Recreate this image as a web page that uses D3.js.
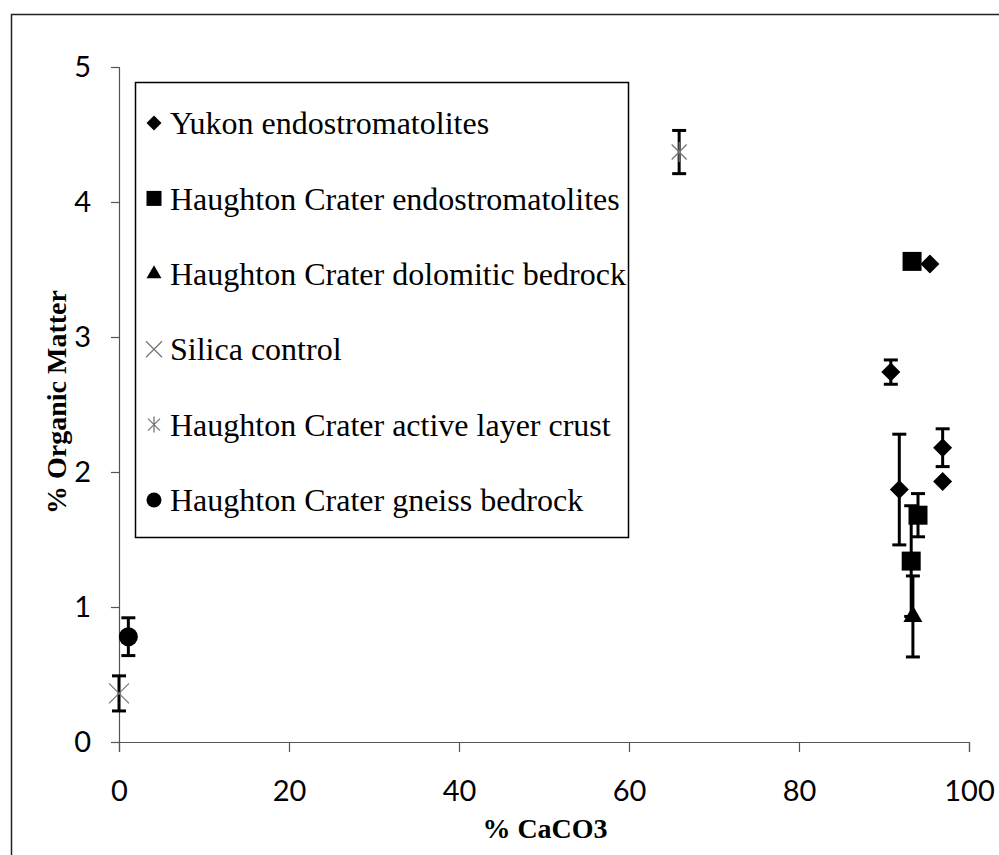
<!DOCTYPE html>
<html>
<head>
<meta charset="utf-8">
<script src="https://cdn.jsdelivr.net/npm/d3@7"></script>
<style>
  body { margin: 0; background: #fff; }
  .tick text { font-family: Lato, 'Open Sans', sans-serif; font-size: 29px; fill: #000; }
  .axis-title { font-family: 'Liberation Serif', 'Times New Roman', serif; font-weight: bold; font-size: 28px; }
  .legend-label { font-family: 'Liberation Serif', 'Times New Roman', serif; font-size: 32px; }
</style>
</head>
<body>
<div class="chart"></div>
<script>
// series names (legend order)
const seriesNames = [
  'Yukon endostromatolites',
  'Haughton Crater endostromatolites',
  'Haughton Crater dolomitic bedrock',
  'Silica control',
  'Haughton Crater active layer crust',
  'Haughton Crater gneiss bedrock'
];
const seriesShapes = ['diamond', 'square', 'triangle', 'x', 'asterisk', 'circle'];

// values: x = % CaCO3, y = % organic matter, err = +/- error bar
const yukonX = [95.4, 90.8, 91.8, 96.9, 96.9];
const yukonY = [3.54, 2.74, 1.87, 2.18, 1.93];
const yukonErr = [0, 0.09, 0.41, 0.14, 0];

const hcEndoX = [93.3, 94.0, 93.2];
const hcEndoY = [3.56, 1.68, 1.34];
const hcEndoErr = [0, 0.16, 0.41];

const dolomiticX = [93.4];
const dolomiticY = [0.93];
const dolomiticErr = [0.30];

const silicaX = [0];
const silicaY = [0.36];
const silicaErr = [0.13];

const crustX = [65.9];
const crustY = [4.37];
const crustErr = [0.16];

const gneissX = [1.1];
const gneissY = [0.78];
const gneissErr = [0.14];

const xTicks = [0, 20, 40, 60, 80, 100];
const yTicks = [0, 1, 2, 3, 4, 5];

const allX = [yukonX, hcEndoX, dolomiticX, silicaX, crustX, gneissX];
const allY = [yukonY, hcEndoY, dolomiticY, silicaY, crustY, gneissY];
const allErr = [yukonErr, hcEndoErr, dolomiticErr, silicaErr, crustErr, gneissErr];

const series = seriesNames.map((name, i) => ({
  name,
  shape: seriesShapes[i],
  points: allX[i].map((x, j) => ({x, y: allY[i][j], err: allErr[i][j]}))
}));

const width = 999;
const height = 855;

const svg = d3.select('.chart').append('svg')
  .attr('width', width)
  .attr('height', height);

// outer frame
svg.append('rect')
  .attr('x', 11.5).attr('y', 14.5)
  .attr('width', width).attr('height', height)
  .attr('fill', 'none')
  .attr('stroke', '#222')
  .attr('stroke-width', 1.5);

const x = d3.scaleLinear().domain([0, 100]).range([119, 969]);
const y = d3.scaleLinear().domain([0, 5]).range([742, 67]);

const xAxis = svg.append('g')
  .attr('transform', `translate(0,${y(0)})`)
  .call(d3.axisBottom(x).tickValues(xTicks).tickFormat(d3.format('d')).tickSize(10).tickPadding(34));
const yAxis = svg.append('g')
  .attr('transform', `translate(${x(0)},0)`)
  .call(d3.axisLeft(y).tickValues(yTicks).tickFormat(d3.format('d')).tickSize(8).tickPadding(20));

[xAxis, yAxis].forEach(g => {
  g.select('.domain').attr('stroke', '#555').attr('stroke-width', 1.2);
  g.selectAll('.tick line').attr('stroke', '#555').attr('stroke-width', 1.2);
});
xAxis.selectAll('.tick text').attr('dy', '0.5em');

svg.append('text')
  .attr('class', 'axis-title')
  .attr('x', 545).attr('y', 838)
  .attr('text-anchor', 'middle')
  .text('% CaCO3');

svg.append('text')
  .attr('class', 'axis-title')
  .attr('transform', 'translate(66,402) rotate(-90)')
  .attr('text-anchor', 'middle')
  .text('% Organic Matter');

// marker paths
function markerPath(shape, s) {
  if (shape === 'diamond') return d3.symbol(d3.symbolSquare, s * s / 2)();
  if (shape === 'square') return d3.symbol(d3.symbolSquare, s * s)();
  if (shape === 'circle') return d3.symbol(d3.symbolCircle, Math.PI * s * s / 4)();
  if (shape === 'triangle') return d3.symbol(d3.symbolTriangle, Math.sqrt(3) / 4 * s * s)();
  const h = s / 2;
  if (shape === 'x') return `M${-h},${-h}L${h},${h}M${-h},${h}L${h},${-h}`;
  const a = h * 0.75;
  return `M${-a},${-a}L${a},${a}M${-a},${a}L${a},${-a}M0,${-h}L0,${h}`;
}
function drawMarker(g, shape, s) {
  const stroke = shape === 'x' || shape === 'asterisk';
  g.append('path')
    .attr('d', markerPath(shape, s))
    .attr('transform', shape === 'diamond' ? 'rotate(45)' : null)
    .attr('fill', stroke ? 'none' : '#000')
    .attr('stroke', stroke ? '#777' : 'none')
    .attr('stroke-width', stroke ? 1.3 : 0);
}

const plot = svg.append('g');

// error bars
series.forEach(s => {
  s.points.filter(p => p.err > 0).forEach(p => {
    const g = plot.append('g').attr('stroke', '#000').attr('stroke-width', 3);
    const cx = x(p.x);
    g.append('line').attr('x1', cx).attr('x2', cx).attr('y1', y(p.y + p.err)).attr('y2', y(p.y - p.err));
    g.append('line').attr('x1', cx - 7).attr('x2', cx + 7).attr('y1', y(p.y + p.err)).attr('y2', y(p.y + p.err));
    g.append('line').attr('x1', cx - 7).attr('x2', cx + 7).attr('y1', y(p.y - p.err)).attr('y2', y(p.y - p.err));
  });
});

// markers
series.forEach(s => {
  s.points.forEach(p => {
    const g = plot.append('g').attr('transform', `translate(${x(p.x)},${y(p.y)})`);
    drawMarker(g, s.shape, s.shape === 'x' || s.shape === 'asterisk' ? 20 : 19);
  });
});

// legend
const legend = svg.append('g');
legend.append('rect')
  .attr('x', 135.5).attr('y', 82.5)
  .attr('width', 493).attr('height', 455)
  .attr('fill', '#fff')
  .attr('stroke', '#000')
  .attr('stroke-width', 1.5);

const items = legend.selectAll('.legend-item')
  .data(series)
  .enter()
  .append('g')
  .attr('class', 'legend-item')
  .attr('transform', (d, i) => `translate(154,${123 + i * 75.4})`);

items.each(function(d) {
  drawMarker(d3.select(this), d.shape, d.shape === 'x' || d.shape === 'asterisk' ? 16 : 15);
});

items.append('text')
  .attr('class', 'legend-label')
  .attr('x', 16)
  .attr('dy', '0.35em')
  .text(d => d.name);
</script>
</body>
</html>
